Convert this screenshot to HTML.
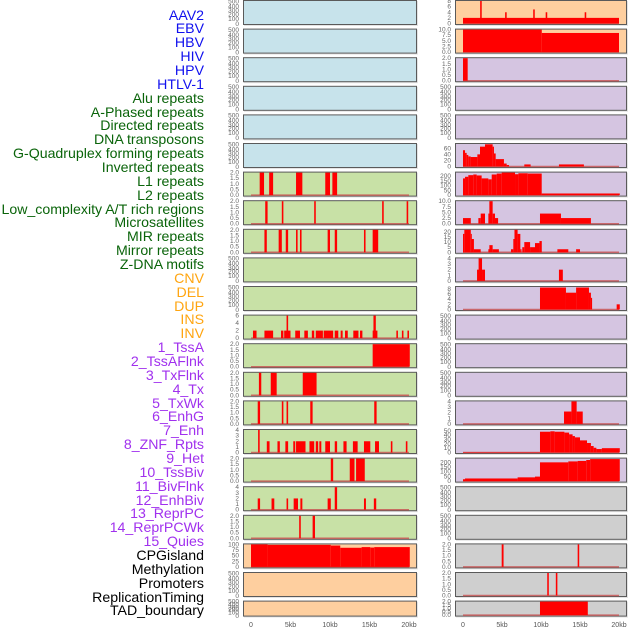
<!DOCTYPE html>
<html><head><meta charset="utf-8">
<style>
html,body{margin:0;padding:0;background:#fff;}
#wrap{position:relative;width:630px;height:630px;overflow:hidden;font-family:"Liberation Sans",sans-serif;}
#labels{position:absolute;left:0;top:0;width:204px;height:630px;}
.lab{position:absolute;right:0;font-size:14.15px;line-height:14px;white-space:nowrap;text-align:right;}
svg{position:absolute;left:0;top:0;}
</style></head>
<body>
<div id="wrap">
<div id="labels"></div>
<svg id="chart" width="630" height="630"></svg>
</div>
<script>
// ---- labels ----
const trackLabels = ["AAV2","EBV","HBV","HIV","HPV","HTLV-1","Alu repeats","A-Phased repeats","Directed repeats","DNA transposons","G-Quadruplex forming repeats","Inverted repeats","L1 repeats","L2 repeats","Low_complexity A/T rich regions","Microsatellites","MIR repeats","Mirror repeats","Z-DNA motifs","CNV","DEL","DUP","INS","INV","1_TssA","2_TssAFlnk","3_TxFlnk","4_Tx","5_TxWk","6_EnhG","7_Enh","8_ZNF_Rpts","9_Het","10_TssBiv","11_BivFlnk","12_EnhBiv","13_ReprPC","14_ReprPCWk","15_Quies","CPGisland","Methylation","Promoters","ReplicationTiming","TAD_boundary"];
const labelGroups = [6,13,5,15,5];
const groupColors = ["#1010ee","#0a640a","#ffa510","#a030ee","#000000"];

// ---- data: segments [startKb, endKb, value] ----
const L6 = [[1.1,1.65,2],[2.3,2.8,2],[5.7,6.5,2],[9.4,10,2],[10.3,10.9,2]];
const L7 = [[1.8,2.1,2],[3.9,4.1,2],[8.0,8.2,2],[16.6,16.8,2],[19.7,19.9,2]];
const L8 = [[1.7,2.0,2],[3.5,3.9,2],[4.4,4.7,2],[5.7,5.9,2],[6.2,6.4,2],[9.7,10,2],[10.6,10.9,2],[14.3,14.5,2],[15.4,16.1,2]];
const L11 = [[0.25,0.7,2],[1.7,2.8,2],[3.8,4.1,2],[4.2,5.0,2],[4.5,4.7,6],[5.6,6.2,2],[6.75,7.2,2],[7.7,8.0,2],[8.2,9.1,2],[9.2,10.4,2],[10.6,11.05,2],[11.35,11.6,2],[11.9,12.25,2],[12.95,13.6,2],[13.8,14.1,2],[15.4,16.0,2],[15.5,15.8,6],[18.4,18.6,2],[19.1,19.3,2],[19.8,20.0,2]];
const L12 = [[15.4,20.1,2]];
const L13 = [[1.0,1.3,2],[2.5,3.25,2],[6.55,8.3,2]];
const L14 = [[0.85,1.15,2],[3.9,4.1,2],[4.5,4.7,2],[7.5,7.8,2],[15.6,15.9,2]];
const L15 = [[0.9,1.1,4],[2.0,2.35,2],[3.35,3.65,2],[4.35,4.7,2],[5.35,5.6,2],[5.7,6.9,2],[7.4,8.0,2],[8.2,8.5,2],[8.65,8.9,2],[9.4,10.0,2],[10.6,10.9,2],[11.7,12.1,2],[12.9,13.5,2],[14.3,15.1,2],[15.7,16.2,2],[17.7,17.9,2],[19.6,19.8,2]];
const L16 = [[10.1,10.4,2],[12.5,13.1,2],[13.3,14.4,2]];
const L17 = [[0.85,1.15,2],[2.6,2.95,2],[4.5,4.7,2],[5.4,5.95,2],[6.25,6.5,2],[9.7,10.1,2],[10.6,10.9,4],[14.3,14.55,2],[15.55,15.85,2]];
const L18 = [[6.1,6.3,2],[7.8,8.1,2]];
const L19 = [[0,2.1,100],[2.1,10.1,98],[10.1,11.3,95],[11.3,14,85],[14,15.1,88],[15.1,15.6,86],[15.6,20.1,88]];
const R0 = [[0,20,2],[2.2,2.4,8],[5.4,5.6,4],[9.0,9.2,5],[10.6,10.8,4],[15.6,15.8,4]];
const R1 = [[0,10.1,10],[10.1,20,8.5]];
const R2 = [[0,0.6,2]];
const R5 = [[0,0.26,55],[0.26,0.47,46],[0.47,0.68,39],[0.68,0.98,34],[0.98,1.84,32],[1.84,2.18,41],[2.18,2.82,67],[2.82,3.8,75],[3.8,3.97,67],[3.97,4.19,44],[4.19,5.25,25],[5.25,5.6,10],[5.6,5.9,5],[7.86,8.67,7],[12.3,15.5,7]];
const R6 = [[0,0.26,176],[0.26,0.68,193],[0.68,1.32,210],[1.32,1.75,217],[1.75,2.39,207],[2.39,3.25,176],[3.25,3.68,166],[3.68,4.32,217],[4.32,4.96,227],[4.96,6.67,237],[6.67,7.1,220],[7.1,8.3,230],[8.3,10.09,227],[10.09,20.1,17]];
const R7 = [[0,1.0,2.5],[1.97,2.27,2.5],[2.27,2.82,4.5],[3.25,3.46,4.5],[3.38,3.8,10],[3.8,4.1,4.5],[4.1,4.5,2.5],[9.87,12.56,4.5],[12.56,16.4,2.5]];
const R8 = [[0,0.17,18],[0.17,1.0,22],[1.0,1.1,18],[1.1,1.4,13],[1.4,2.27,3],[3.25,3.46,3],[3.38,3.8,7],[3.8,4.6,3],[6.15,6.45,3],[6.45,6.6,13],[6.6,7.0,22],[7.0,7.35,18],[7.35,7.5,3],[7.6,7.86,5],[7.86,8.6,10],[8.6,9.23,5],[9.23,9.8,9],[9.8,10.1,11],[12.1,13.5,3],[14.5,15.0,3]];
const R9 = [[1.8,2.1,2],[2.0,2.44,4],[2.44,2.82,2],[12.3,12.8,2]];
const R10 = [[9.87,13.2,8.5],[13.2,14.5,6.5],[14.5,16.15,8.5],[16.15,16.4,6.5],[16.4,16.55,4.5],[19.7,20.1,2]];
const R14 = [[12.95,13.9,2.2],[13.9,14.57,4],[14.57,15.35,2.2]];
const R15 = [[0,9.87,1],[9.87,11.2,48],[11.2,11.75,49],[11.75,13.0,48],[13.0,13.6,46],[13.6,14.05,42],[14.05,14.35,38],[14.35,15.0,35],[15.0,15.9,28],[15.9,16.4,22],[16.4,16.75,15],[16.75,17.1,11],[17.1,17.8,8],[17.8,20.1,10]];
const R16 = [[0,0.26,20],[0.26,7.0,28],[7.0,9.23,40],[9.23,9.87,48],[9.87,13.5,200],[13.5,14.7,210],[14.7,15.8,215],[15.8,16.3,225],[16.3,20.1,235]];
const R19 = [[4.96,5.2,2],[14.7,14.9,2]];
const R20 = [[10.8,11.0,2],[11.9,12.1,2]];
const R21 = [[9.87,16.0,2]];

// ---- tick label sets ----
const ticksEmpty = ["0","100","200","300","400","500"];
const ticks2 = ["0.0","0.5","1.0","1.5","2.0"];
const ticks4 = ["0","1","2","3","4"];
const ticks6 = ["0","2","4","6"];
const ticks8 = ["0","2","4","6","8"];
const ticks10 = ["0.0","2.5","5.0","7.5","10.0"];
const ticks20 = ["0","5","10","15","20"];
const ticks50 = ["0","10","20","30","40","50"];
const ticks60 = ["0","20","40","60"];
const ticks200 = ["0","50","100","150","200"];
const ticks100 = ["0","25","50","75","100"];
const xTickLabels = ["0","5kb","10kb","15kb","20kb"];
const xTickValues = [0,5,10,15,20];

const BG = {b:"#c7e3eb",g:"#c8e1a6",o:"#fecf9f",p:"#d5c5e1",k:"#cfcfcf"};
// panels: [col, row, bg, data, ymax, ticks]
const panels = [];
for (let r=0;r<6;r++) panels.push([0,r,"b",null,0,ticksEmpty]);
panels.push([0,6,"g",L6,2,ticks2],[0,7,"g",L7,2,ticks2],[0,8,"g",L8,2,ticks2],
 [0,9,"g",null,0,ticksEmpty],[0,10,"g",null,0,ticksEmpty],[0,11,"g",L11,6,ticks6],
 [0,12,"g",L12,2,ticks2],[0,13,"g",L13,2,ticks2],[0,14,"g",L14,2,ticks2],
 [0,15,"g",L15,4,ticks4],[0,16,"g",L16,2,ticks2],[0,17,"g",L17,4,ticks4],[0,18,"g",L18,2,ticks2],
 [0,19,"o",L19,100,ticks100],[0,20,"o",null,0,ticksEmpty],[0,21,"o",null,0,ticksEmpty]);
panels.push([1,0,"o",R0,8,ticks8],[1,1,"o",R1,10,ticks10],[1,2,"p",R2,2,ticks2],
 [1,3,"p",null,0,ticksEmpty],[1,4,"p",null,0,ticksEmpty],[1,5,"p",R5,76,ticks60],
 [1,6,"p",R6,237,ticks200],[1,7,"p",R7,10,ticks10],[1,8,"p",R8,22,ticks20],
 [1,9,"p",R9,4,ticks4],[1,10,"p",R10,8.7,ticks8],[1,11,"p",null,0,ticksEmpty],
 [1,12,"p",null,0,ticksEmpty],[1,13,"p",null,0,ticksEmpty],[1,14,"p",R14,4,ticks4],
 [1,15,"p",R15,52,ticks50],[1,16,"p",R16,240,ticks200],[1,17,"k",null,0,ticksEmpty],
 [1,18,"k",null,0,ticksEmpty],[1,19,"k",R19,2,ticks2],[1,20,"k",R20,2,ticks2],[1,21,"k",R21,2,ticks2]);

// ---- layout ----
const colX = [[243,417,251,409],[455,627,463,619]];
const rowPitch = 28.6, rowH = 25, lastH = 16;
const NS = "http://www.w3.org/2000/svg";
const svg = document.getElementById("chart");
function mk(tag, attrs, parent){ const e=document.createElementNS(NS,tag); for(const k in attrs) e.setAttribute(k,attrs[k]); (parent||svg).appendChild(e); return e; }

// labels
const labDiv = document.getElementById("labels");
let li=0;
labelGroups.forEach((n,gi)=>{ for(let k=0;k<n;k++){ const d=document.createElement("div"); d.className="lab"; d.style.color=groupColors[gi]; d.style.top=(15+li*13.86-7.5)+"px"; d.textContent=trackLabels[li];
 
 
 labDiv.appendChild(d); li++; } });

panels.forEach(p=>{
  const [col,row,bg,data,ymax,ticks]=p;
  const [px0,px1,dx0,dx20]=colX[col];
  const top=row*rowPitch, h=(row===21?lastH:rowH);
  const g=mk("g",{});
  
  
  mk("rect",{x:px0+1,y:top+1,width:px1-px0,height:h,fill:"#e4e4e4"},g);
  mk("rect",{x:px0+0.5,y:top+0.5,width:px1-px0-1,height:h-1,fill:BG[bg],stroke:"#5a5a5a","stroke-width":1},g);
  const yb=top+h-1.5, yt=top+1;
  const xs=v=>dx0+v*(dx20-dx0)/20;
  const ys=v=>yb-(v/ymax)*(yb-yt);
  const tx=px0-4;
  if(data){
    const step=parseFloat(ticks[1])-parseFloat(ticks[0]);
    ticks.forEach((t,i)=>{ const v=i*step; const tt=mk("text",{x:tx,y:ys(v)+2,"font-size":6.5,"text-anchor":"end",fill:"#666"},g); tt.textContent=t; });
    mk("line",{x1:xs(0),x2:xs(20),y1:yb,y2:yb,stroke:"#c85050","stroke-width":1.5,opacity:0.8},g);
    data.forEach(s=>{ const r=mk("rect",{x:xs(s[0]),y:ys(s[2]),width:Math.max(1,xs(s[1])-xs(s[0])),height:yb-ys(s[2]),fill:"#ff0000"},g);
      
       });
  } else {
    const fr=[0.95,0.75,0.57,0.42,0.25,0.05];
    ticks.forEach((t,i)=>{ const tt=mk("text",{x:tx,y:top+h*fr[i]+2,"font-size":6.5,"text-anchor":"end",fill:"#666"},g); tt.textContent=t; });
  }
});

// x axes
colX.forEach((c,ci)=>{
  xTickValues.forEach((v,i)=>{ const t=mk("text",{x:c[2]+v*(c[3]-c[2])/20,y:627,"font-size":7,"text-anchor":"middle",fill:"#555"});
    
    
    t.textContent=xTickLabels[i]; });
});
</script>
</body></html>
